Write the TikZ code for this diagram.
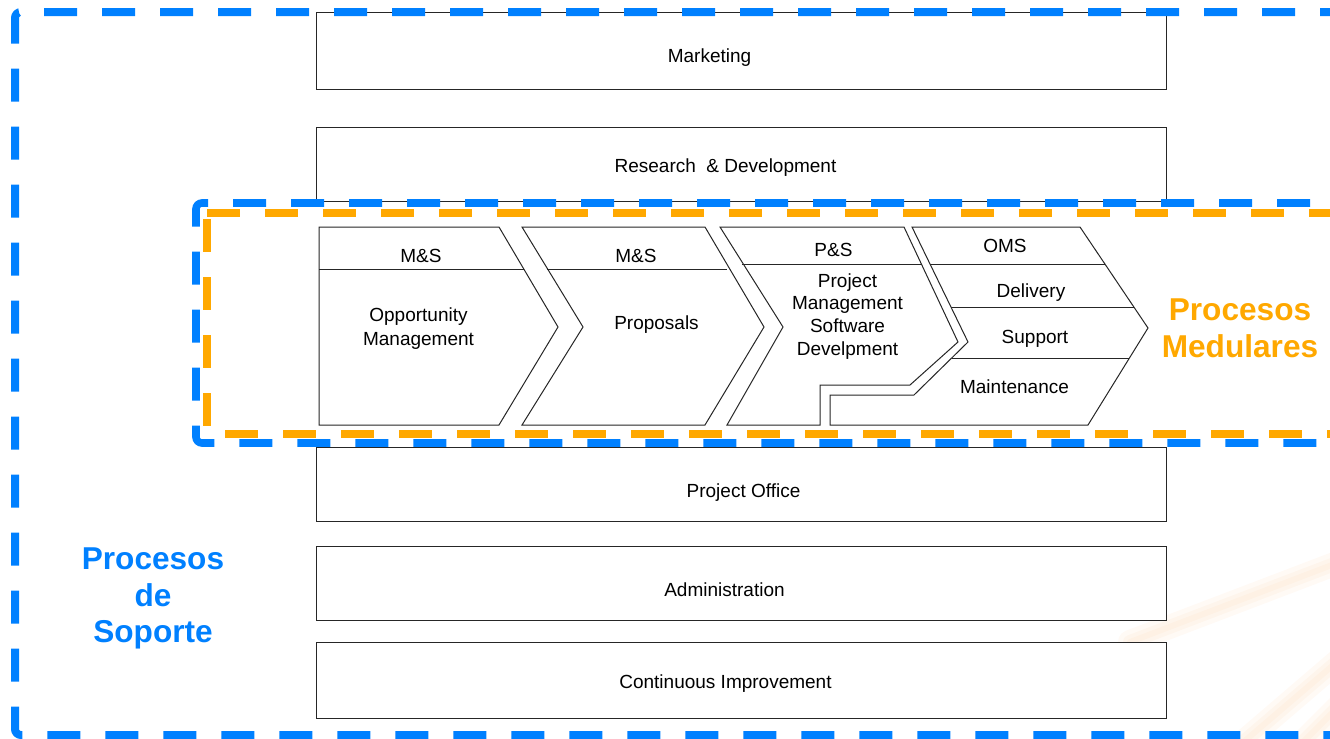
\documentclass[tikz,border=0pt]{standalone}
\usepackage{fontspec}
\setmainfont{Liberation Sans}
\definecolor{azulsoporte}{RGB}{0,128,255}
\definecolor{naranjamedular}{RGB}{255,168,0}
\definecolor{estela}{RGB}{250,190,130}
\tikzset{
	caja/.style={draw=black!85, line width=0.5pt, fill=white},
	texto/.style={font=\fontsize{9.5}{12}\selectfont, inner sep=0pt, align=center},
	titulo/.style={font=\fontsize{15.8}{18.5}\selectfont\bfseries, inner sep=0pt, align=center},
	raya/.style={dash pattern=on 16.5pt off 12.5pt},
	brillo/.style={estela, opacity=0.08, line cap=round},
}
\def\banda[#1](#2:#3)(#4,#5)#6{\draw[caja] (316,#2) rectangle (1166,#3); \node[texto, anchor=base] (#1) at (#4,#5) {#6};}
\def\estela(#1)(#2){\draw[brillo, line width=12pt] (#1) -- (#2); \draw[brillo, line width=7pt] (#1) -- (#2); \draw[brillo, line width=3pt] (#1) -- (#2);}

\begin{document}
\begin{tikzpicture}[x=0.5pt, y=-0.5pt]
			%%%%% START %%%%%
			\useasboundingbox (0,0) rectangle (1330,739);
			\clip (0,0) rectangle (1330,739);
			
			\estela(1130,642)(1345,560);
			\estela(1240,745)(1345,655);
			\estela(1300,745)(1345,700);
			
			\banda[mkt](12:89)(709.5,62){Marketing};
			\banda[rd](127:201)(725.5,172){Research\ \ \&~Development};
			\banda[po](447:521)(743.5,497){Project Office};
			\banda[adm](546:620)(724.5,596){Administration};
			\banda[ci](642:718)(725.5,688){Continuous Improvement};
			
			% first chevron
			\draw[caja] (319,227) -- (499,227) -- (558,327) -- (499,425) -- (319,425) -- cycle;
			\draw[caja] (319,269) -- (524,269);
			\node[texto, anchor=base] (ms1) at (421,262) {M\&S};
			\node[texto] (opp) at (418.5,329) {Opportunity\\Management};
			
			% second chevron
			\draw[caja] (522,227) -- (705,227) -- (764,327) -- (705,425) -- (522,425) -- (583,327) -- cycle;
			\draw[caja] (547,269) -- (727,269);
			\node[texto, anchor=base] (ms2) at (636,262) {M\&S};
			\node[texto, anchor=base] (prop) at (656.5,329) {Proposals};
			
			% third chevron
			\draw[caja] (720,227) -- (904,227) -- (958,342) -- (910,385) -- (820,385) -- (820,425) -- (727,425) -- (783,327) -- cycle;
			\draw[caja] (742,264) -- (922,264);
			\node[texto, anchor=base] (ps) at (833.5,256) {P\&S};
			\node[texto, font=\fontsize{9.5}{11.3}\selectfont] (pm) at (847.5,316.2) {Project\\Management\\Software\\Develpment};
			
			% fourth chevron
			\draw[caja] (912,227) -- (1080,227) -- (1148,328) -- (1088,425) -- (830,425) -- (830,395) -- (914,395) -- (968,342) -- cycle;
			\draw[caja] (930,264) -- (1105,264);
			\draw[caja] (951,307) -- (1134,307);
			\draw[caja] (952,358) -- (1129,358);
			\node[texto, anchor=base] (oms) at (1005,252) {OMS};
			\node[texto, anchor=base] (del) at (1031,297) {Delivery};
			\node[texto, anchor=base] (sup) at (1035,343) {Support};
			\node[texto, anchor=base] (mnt) at (1014.5,393) {Maintenance};
			
			\node[titulo, naranjamedular] (med) at (1240,328.5) {Procesos\\Medulares};
			\node[titulo, azulsoporte, font=\fontsize{15.8}{18.25}\selectfont\bfseries] (sop) at (153,598.5) {Procesos\\de\\Soporte};
			
			\draw[azulsoporte, line width=4pt, raya, dash phase=4pt, rounded corners=3pt] (1345,12) -- (15,12) -- (15,735) -- (1345,735);
			\draw[azulsoporte, line width=3.8pt, raya, dash phase=11.5pt, rounded corners=3pt] (1345,203) -- (196,203) -- (196,443) -- (1345,443);
			\draw[naranjamedular, line width=3.7pt, raya] (207,213) -- (1345,213);
			\draw[naranjamedular, line width=3.7pt, raya] (207,219) -- (207,434);
			\draw[naranjamedular, line width=3.7pt, raya, dash phase=20pt] (207,434) -- (1345,434);
			
			%%%%% END %%%%%
\end{tikzpicture}
\end{document}
